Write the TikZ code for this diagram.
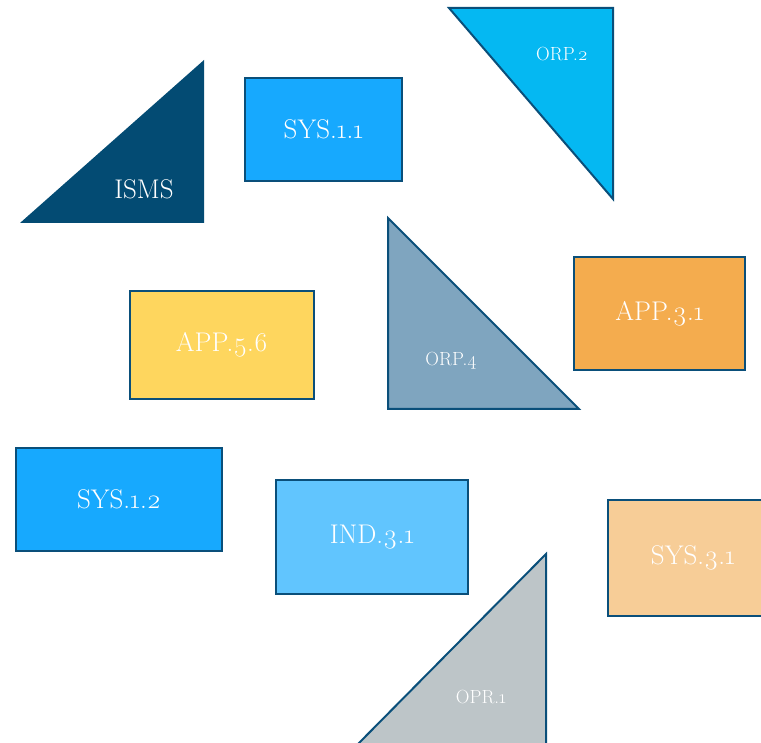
\RequirePackage{fix-cm}
\documentclass[tikz,border=0pt]{standalone}
\usepackage{fontspec}
\setmainfont{Latin Modern Roman}
\usetikzlibrary{positioning}

\definecolor{rand}{HTML}{0A4F7A}
\definecolor{ismsblau}{HTML}{034B73}
\definecolor{sysblau}{HTML}{17A9FE}
\definecolor{orpblau}{HTML}{05B8F2}
\definecolor{orpgrau}{HTML}{7FA5BF}
\definecolor{apporange}{HTML}{F4AC4E}
\definecolor{appgelb}{HTML}{FED65E}
\definecolor{indblau}{HTML}{61C5FE}
\definecolor{sysbeige}{HTML}{F7CD97}
\definecolor{oprgrau}{HTML}{BDC5C8}

\newcommand{\osf}[1]{\oldstylenums{#1}}

\tikzset{
    baustein/.style={draw=rand, line width=2pt, text=white, font=\fontsize{27}{31}\selectfont},
    dreieck/.style={draw=rand, line width=2pt, line join=miter},
    gross/.style={text=white, font=\fontsize{27}{31}\selectfont},
    klein/.style={text=white, font=\fontsize{19}{22}\selectfont}
}

\begin{document}
\begin{tikzpicture}[x=1pt, y=-1pt]
    \useasboundingbox (0,0) rectangle (761,743);

    % Dreiecke
    \fill[ismsblau] (20,223) -- (204,223) -- (204,60) -- cycle;
    \node[gross] (isms) at (144,189) {ISMS};

    \filldraw[dreieck, fill=orpblau] (449,8) -- (613,8) -- (613,199) -- cycle;
    \node[klein] (orp2) at (562,54) {ORP.\osf{2}};

    \filldraw[dreieck, fill=orpgrau] (388,218) -- (388,409) -- (579,409) -- cycle;
    \node[klein] (orp4) at (451,361) {ORP.\osf{4}};

    \filldraw[dreieck, fill=oprgrau] (357,745) -- (546,554) -- (546,745) -- cycle;
    \node[klein] (opr1) at (481,697) {OPR.\osf{1}};

    % Bausteine
    \node[baustein, fill=sysblau, minimum width=157pt, minimum height=103pt] (sys11) at (323.5,129.5) {SYS.\osf{1.1}};
    \node[baustein, fill=apporange, minimum width=171pt, minimum height=113pt] (app31) at (659.5,313.5) {APP.\osf{3.1}};
    \node[baustein, fill=appgelb, minimum width=184pt, minimum height=108pt] (app56) at (222,345) {APP.\osf{5.6}};
    \node[baustein, fill=sysblau, minimum width=206pt, minimum height=103pt] (sys12) at (119,499.5) {SYS.\osf{1.2}};
    \node[baustein, fill=indblau, minimum width=192pt, minimum height=114pt] (ind31) at (372,537) {IND.\osf{3.1}};
    \node[baustein, fill=sysbeige, minimum width=170pt, minimum height=116pt] (sys31) at (693,558) {SYS.\osf{3.1}};
\end{tikzpicture}
\end{document}
